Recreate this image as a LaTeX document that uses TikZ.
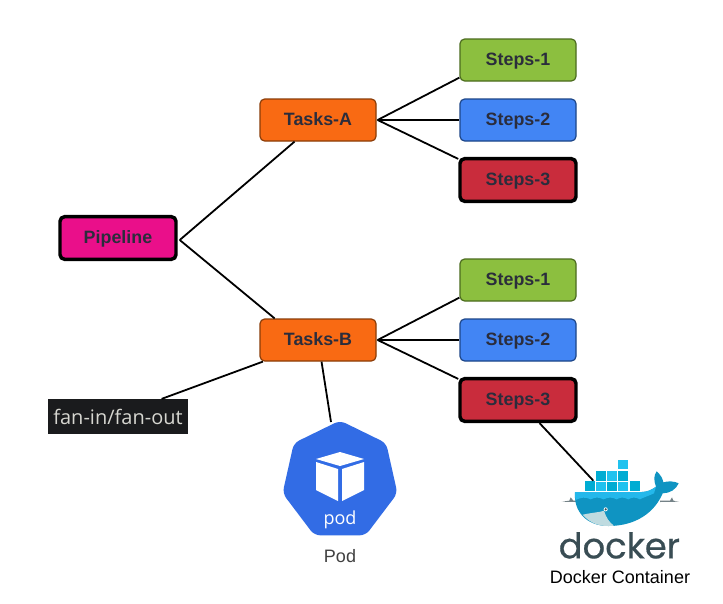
\documentclass[tikz,border=0pt]{standalone}
\usepackage{fontspec}
\setmainfont{Liberation Sans}
\newfontfamily\dockerfont[FakeBold=0.5]{Poppins}
\newfontfamily\fanfont{Open Sans}
\usetikzlibrary{calc}
\definecolor{inkc}{HTML}{2B2D3C}
\definecolor{pinkc}{HTML}{EA0F8A}
\definecolor{orangec}{HTML}{F96A13}
\definecolor{oranged}{HTML}{8A3C08}
\definecolor{greenc}{HTML}{8CBF3F}
\definecolor{greend}{HTML}{4B6B1E}
\definecolor{bluec}{HTML}{4285F4}
\definecolor{blued}{HTML}{1C4587}
\definecolor{redc}{HTML}{C92C3C}
\definecolor{podc}{HTML}{326CE5}
\definecolor{darkc}{HTML}{1A1B1D}
\definecolor{fantext}{HTML}{D6D6D0}
\definecolor{dockc}{HTML}{394D54}
\definecolor{contc}{HTML}{00ACD3}
\definecolor{contl}{HTML}{20C2EF}
\definecolor{whalec}{HTML}{0F94C2}
\definecolor{whalel}{HTML}{24B8EB}
\definecolor{bellyc}{HTML}{BFDBE0}
\tikzset{
  box/.style={rounded corners=3.5pt,minimum width=87pt,minimum height=31.5pt,inner sep=0pt,
    font=\fontsize{13.4pt}{15pt}\selectfont\bfseries,text=inkc,line width=.9pt,
    text height=11pt,text depth=2.6pt},
  boxheavy/.style={box,minimum width=87pt,minimum height=32pt,draw=black,line width=2.6pt},
  pipebox/.style={boxheavy,fill=pinkc},
  taskbox/.style={box,fill=orangec,draw=oranged},
  stepgreen/.style={box,fill=greenc,draw=greend},
  stepblue/.style={box,fill=bluec,draw=blued},
  stepred/.style={boxheavy,fill=redc},
  link/.style={draw=black,line width=1.35pt},
  caption/.style={font=\fontsize{13.5pt}{15pt}\selectfont,inner sep=0pt},
}
\begin{document}
\begin{tikzpicture}[x=.75pt,y=-.75pt]
\useasboundingbox (0,0) rectangle (723,603);
\fill[white] (0,0) rectangle (723,603);

\node[pipebox] (pipe) at (118,238) {Pipeline};
\node[taskbox] (ta) at (318,120) {Tasks-A};
\node[stepgreen] (a1) at (518,60) {Steps-1};
\node[stepblue] (a2) at (518,120) {Steps-2};
\node[stepred] (a3) at (518,180) {Steps-3};
\node[taskbox] (tb) at (318,340) {Tasks-B};
\node[stepgreen] (b1) at (518,280) {Steps-1};
\node[stepblue] (b2) at (518,340) {Steps-2};
\node[stepred] (b3) at (518,400) {Steps-3};
\node[fill=darkc,text=fantext,minimum width=105pt,minimum height=26pt,inner sep=0pt,
  font=\fanfont\fontsize{15pt}{17pt}\selectfont] (fan) at (118,416.5) {fan-in/fan-out};

% pod icon
\coordinate (podtop) at (340,422);
\fill[podc,draw=podc,line width=2pt,line join=round,rounded corners=4pt]
  (podtop) -- (385,444) -- (396,493) -- (365,534) -- (315,534) -- (284,493) -- (295,444) -- cycle;
\fill[white] (340,452) -- (364,459) -- (340,466) -- (316,459) -- cycle;
\fill[white] (316,462) -- (338,469) -- (338,501) -- (316,490) -- cycle;
\fill[white] (364,462) -- (342,469) -- (342,501) -- (364,490) -- cycle;
\node[text=white,font=\fanfont\fontsize{13.5pt}{15pt}\selectfont,inner sep=0pt] (podword) at (340,520) {pod};
\node[caption,text=black!75] (podlabel) at (340,556) {Pod};

% docker icon, drawn in the 3x zoom frame of the reference
\begin{scope}[shift={(530,440)},x=.25pt,y=-.25pt]
  \coordinate (docktop) at (190,122);
  \foreach \cx/\cy/\cc in {163/122/contc,197/122/contl,230/122/contc,263/122/contl,297/122/contc,
     197/92/contc,230/92/contl,263/92/contc,263/58/contl}{
    \fill[\cc,draw=white,line width=.3pt] (\cx,\cy) rectangle ++(33,31);
  }
  \fill[dockc!70] (95,185) -- (118,182) -- (122,172) -- (130,182) -- (140,182) -- (140,186) -- cycle;
  \fill[dockc!70] (390,182) -- (420,182) -- (426,172) -- (430,182) -- (447,185) -- (390,186) -- cycle;
  \fill[whalec] (135,156) -- (335,156)
     .. controls (350,156) and (365,150) .. (378,140)
     .. controls (370,120) and (372,105) .. (380,94)
     .. controls (392,105) and (398,115) .. (400,127)
     .. controls (415,122) and (435,124) .. (446,130)
     .. controls (438,148) and (420,160) .. (398,160)
     .. controls (375,215) and (320,258) .. (235,258)
     .. controls (170,258) and (130,215) .. (135,156) -- cycle;
  \fill[whalel] (135,156) -- (335,156)
     .. controls (350,156) and (365,150) .. (378,140) -- (372,160)
     .. controls (350,170) and (340,172) .. (330,178)
     .. controls (315,170) and (305,172) .. (295,178)
     .. controls (280,170) and (270,172) .. (260,178)
     .. controls (245,170) and (235,172) .. (220,178)
     .. controls (205,170) and (195,172) .. (182,178)
     .. controls (165,170) and (155,172) .. (136,180) -- cycle;
  \fill[bellyc] (158,224) .. controls (185,218) and (215,216) .. (222,212)
     .. controls (228,232) and (238,248) .. (252,257)
     .. controls (210,262) and (180,250) .. (158,224) -- cycle;
  \fill[white] (227,208) circle (6);
  \fill[dockc] (227,208) circle (3.5);
  \node[text=dockc,font=\dockerfont\fontsize{26.5pt}{28pt}\selectfont,inner sep=0pt,anchor=base] (dockword) at (268,355) {docker};
\end{scope}
\node[caption,text=black] (docklabel) at (620,577) {Docker Container};

% connectors
\coordinate (hp) at ($(pipe.east)+(2,2)$);
\coordinate (ha) at ($(ta.east)+(1,0)$);
\coordinate (hb) at ($(tb.east)+(1,0)$);
\draw[link] (hp) -- ($(ta.south west)!.3!(ta.south east)$);
\draw[link] (hp) -- ($(tb.north west)!.13!(tb.north east)$);
\draw[link] (ha) -- ($(a1.south west)+(0,-4)$);
\draw[link] (ha) -- (a2.west);
\draw[link] (ha) -- ($(a3.north west)+(0,2)$);
\draw[link] (hb) -- ($(b1.south west)+(0,-4)$);
\draw[link] (hb) -- (b2.west);
\draw[link] (hb) -- ($(b3.north west)+(0,2)$);
\draw[link] ($(tb.south west)!.03!(tb.south east)$) -- ($(fan.north west)!.81!(fan.north east)$);
\draw[link] ($(tb.south west)!.53!(tb.south east)$) -- ($(podtop)+(-9,0)$);
\draw[link] ($(b3.south west)!.68!(b3.south east)$) -- (docktop);
\end{tikzpicture}
\end{document}
